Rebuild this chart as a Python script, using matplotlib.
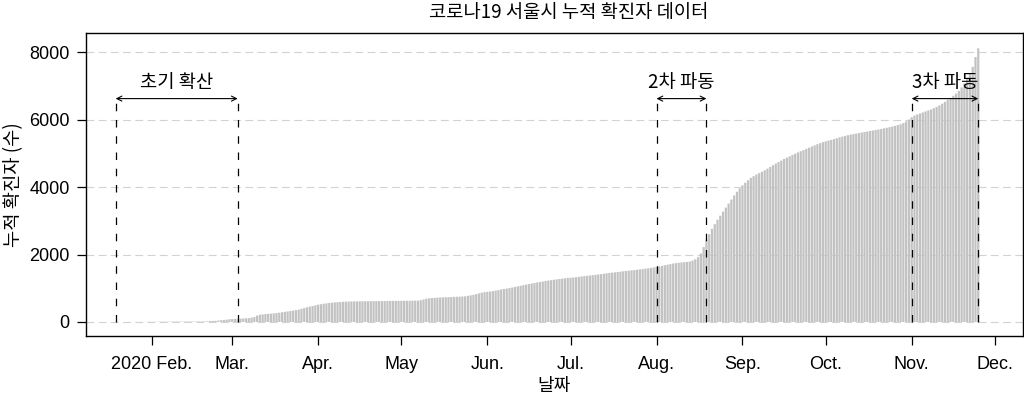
"""코로나19 서울시 누적 확진자: daily cumulative bars with three wave windows."""
import numpy as np
import matplotlib
matplotlib.use("Agg")
import matplotlib.pyplot as plt
import matplotlib.dates as mdates

plt.rcParams["font.family"] = ["Liberation Sans", "Noto Sans CJK KR", "DejaVu Sans"]
KR = ["Noto Sans CJK KR", "DejaVu Sans"]

# cumulative confirmed cases in Seoul, one value per day (2020-01-24 .. 2020-11-25)
cum_jan = [1, 1, 1, 1, 2, 3, 4, 5]
cum_feb = [5, 6, 7, 8, 8, 9, 10, 11, 11, 12,
           12, 12, 12, 12, 13, 13, 13, 14, 15, 16,
           20, 27, 31, 35, 43, 52, 62, 70, 82]
cum_mar = [87, 91, 96, 99, 103, 108, 115, 130, 145, 190,
           215, 226, 235, 242, 248, 256, 265, 276, 288, 300,
           312, 325, 338, 350, 366, 390, 412, 435, 455, 475, 494]
cum_apr = [512, 528, 541, 553, 563, 572, 580, 587, 593, 598,
           602, 606, 608, 610, 612, 613, 614, 615, 616, 617,
           618, 619, 620, 620, 621, 622, 623, 624, 625, 626]
cum_may = [627, 628, 629, 630, 631, 632, 633, 645, 665, 690,
           701, 710, 716, 720, 725, 729, 733, 737, 741, 745,
           748, 751, 755, 760, 775, 790, 805, 825, 850, 870, 885]
cum_jun = [893, 903, 915, 930, 945, 962, 978, 992, 1005, 1020,
           1038, 1055, 1072, 1090, 1108, 1125, 1140, 1155, 1170, 1185,
           1200, 1214, 1228, 1240, 1252, 1263, 1274, 1285, 1296, 1306]
cum_jul = [1312, 1318, 1328, 1338, 1348, 1358, 1368, 1378, 1388, 1398,
           1408, 1418, 1430, 1442, 1452, 1462, 1472, 1482, 1492, 1502,
           1512, 1521, 1530, 1538, 1548, 1558, 1568, 1580, 1592, 1605, 1618]
cum_aug = [1632, 1648, 1665, 1682, 1698, 1715, 1732, 1745, 1755, 1764,
           1772, 1780, 1790, 1820, 1860, 1920, 2030, 2220, 2440, 2600,
           2760, 2900, 3030, 3150, 3270, 3390, 3510, 3630, 3750, 3860, 3960]
cum_sep = [4050, 4130, 4200, 4270, 4320, 4370, 4410, 4450, 4495, 4545,
           4595, 4645, 4695, 4740, 4785, 4830, 4870, 4910, 4950, 4990,
           5025, 5060, 5095, 5130, 5165, 5200, 5235, 5270, 5300, 5330]
cum_oct = [5355, 5375, 5395, 5420, 5445, 5470, 5495, 5515, 5535, 5553,
           5570, 5585, 5600, 5615, 5630, 5645, 5660, 5675, 5690, 5705,
           5720, 5737, 5755, 5773, 5792, 5812, 5835, 5860, 5895, 5940, 6000]
cum_nov = [6070, 6120, 6150, 6180, 6210, 6240, 6270, 6300, 6335, 6375,
           6420, 6470, 6525, 6585, 6640, 6705, 6770, 6850, 6950, 7070,
           7220, 7380, 7560, 7850, 8110]

cum = np.array(cum_jan + cum_feb + cum_mar + cum_apr + cum_may + cum_jun
               + cum_jul + cum_aug + cum_sep + cum_oct + cum_nov)
days = np.arange(np.datetime64("2020-01-24"), np.datetime64("2020-11-26"))
assert len(days) == len(cum)

# wave windows
wave_names = ["초기 확산", "2차 파동", "3차 파동"]
wave_start = ["2020-01-19", "2020-08-01", "2020-11-01"]
wave_end = ["2020-03-03", "2020-08-19", "2020-11-25"]

month_ticks = ["2020-02-01", "2020-03-01", "2020-04-01", "2020-05-01", "2020-06-01",
               "2020-07-01", "2020-08-01", "2020-09-01", "2020-10-01", "2020-11-01",
               "2020-12-01"]
month_labels = ["2020 Feb.", "Mar.", "Apr.", "May", "Jun.", "Jul.", "Aug.",
                "Sep.", "Oct.", "Nov.", "Dec."]

fig = plt.figure(figsize=(10.24, 3.98), dpi=100)
ax = fig.add_axes([0.0837, 0.1558, 0.9153, 0.7605])

x = mdates.date2num(days.astype("datetime64[D]").astype(object))
bars = ax.bar(x, cum, width=0.8, color="#c2c2c2", linewidth=0, zorder=2)
for b in bars:
    b.set_snap(False)  # no pixel snapping -> even, fine stripes

for y in [0, 2000, 4000, 6000, 8000]:
    ax.axhline(y, color="#d2d2d2", lw=0.8, linestyle=(0, (7, 4)), zorder=1)

arrow_y = 6620
for name, s, e in zip(wave_names, wave_start, wave_end):
    xs = mdates.datestr2num(s)
    xe = mdates.datestr2num(e)
    for xv in (xs, xe):
        ax.plot([xv, xv], [0, arrow_y], color="black", lw=0.9,
                linestyle=(0, (6, 7)), zorder=3)
    ax.annotate("", xy=(xs, arrow_y), xytext=(xe, arrow_y),
                arrowprops=dict(arrowstyle="<->", lw=0.8, color="black",
                                mutation_scale=9, shrinkA=0, shrinkB=0), zorder=4)
    ax.text((xs + xe) / 2, 7100, name, ha="center", va="center",
            fontsize=13.5, family=KR)

ax.set_xlim(mdates.datestr2num("2020-01-08 05:00"), mdates.datestr2num("2020-12-11 03:00"))
ax.set_ylim(-415, 8555)
ax.set_yticks([0, 2000, 4000, 6000, 8000])
ax.set_xticks(mdates.datestr2num(month_ticks))
ax.set_xticklabels(month_labels)
ax.tick_params(axis="both", direction="out", length=6.5, width=0.9, labelsize=13)
ax.tick_params(axis="x", pad=8)
ax.tick_params(axis="y", pad=5)
for sp in ax.spines.values():
    sp.set_linewidth(1.0)

ax.set_ylabel("누적 확진자 (수)", family=KR, fontsize=13.5, labelpad=4)
ax.set_xlabel("날짜", family=KR, fontsize=13, labelpad=2.5)
fig.text(0.555, 0.968, "코로나19 서울시 누적 확진자 데이터", ha="center", va="center",
         fontsize=13.5, family=KR)

fig.savefig("out.png", dpi=100)
